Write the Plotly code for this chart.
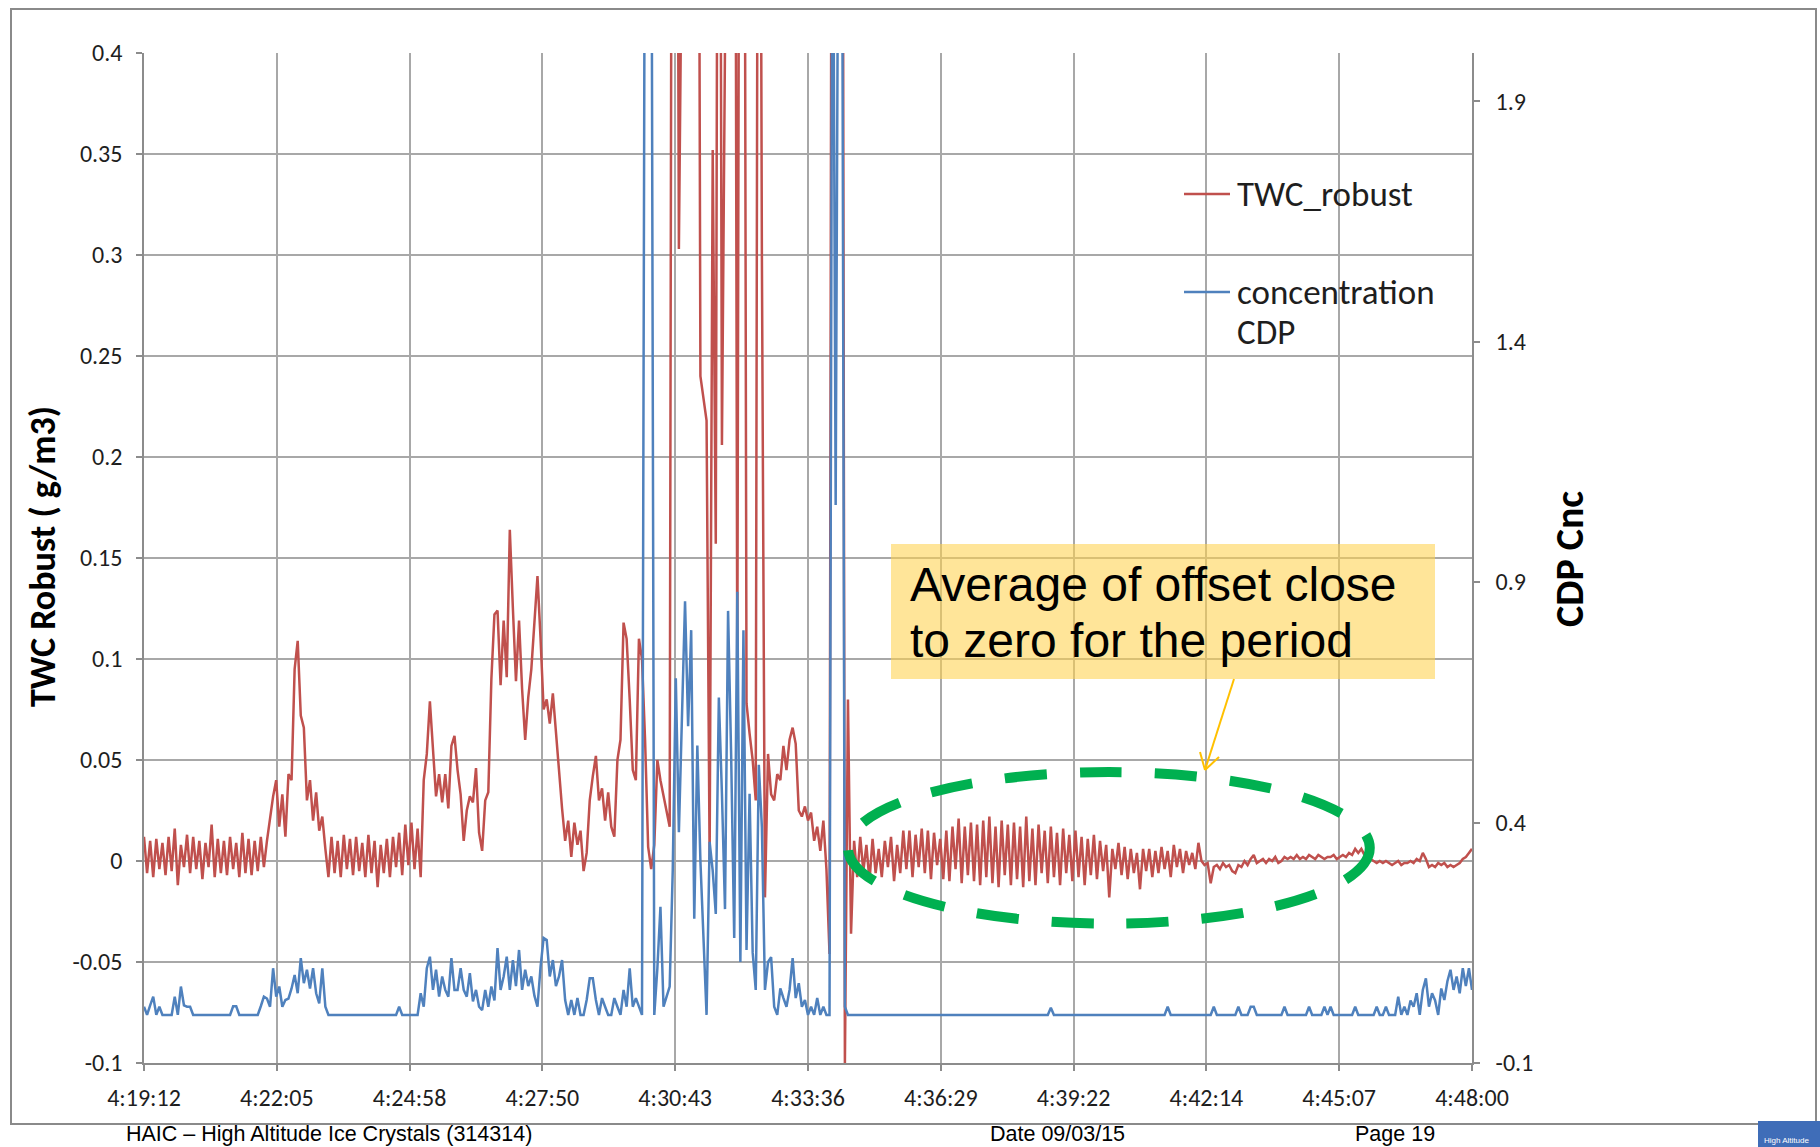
import pandas as pd
import plotly.graph_objects as go

# ---------------------------------------------------------------- data
START = "2015-03-09 04:19:12"
END = "2015-03-09 04:48:00"
SAMPLE_SECONDS = 4

# TWC robust (g/m3), one value every 4 s from 4:19:12
twc_robust = [
    0.012, -0.006, 0.010, -0.008, 0.011, -0.004, 0.009, -0.007, 0.012, -0.005,
    0.016, -0.012, 0.008, -0.003, 0.013, -0.006, 0.012, -0.004, 0.010, -0.009,
    0.009, -0.003, 0.018, -0.008, 0.011, -0.006, 0.010, -0.007, 0.012, -0.004,
    0.009, -0.008, 0.014, -0.006, 0.011, -0.007, 0.010, -0.005, 0.012, -0.003,
    0.010, 0.022, 0.032, 0.040, 0.017, 0.033, 0.012, 0.043, 0.040, 0.095,
    0.109, 0.072, 0.066, 0.030, 0.040, 0.020, 0.034, 0.015, 0.022, 0.006,
    -0.008, 0.012, -0.006, 0.010, -0.008, 0.013, -0.004, 0.011, -0.007, 0.012,
    -0.005, 0.009, -0.008, 0.013, -0.006, 0.010, -0.013, 0.008, -0.006, 0.011,
    -0.008, 0.012, -0.003, 0.014, -0.007, 0.018, -0.002, 0.019, -0.004, 0.016,
    -0.008, 0.040, 0.053, 0.079, 0.058, 0.032, 0.043, 0.029, 0.043, 0.026,
    0.057, 0.062, 0.045, 0.033, 0.010, 0.025, 0.032, 0.029, 0.046, 0.014,
    0.005, 0.030, 0.034, 0.090, 0.122, 0.124, 0.087, 0.119, 0.091, 0.164,
    0.125, 0.089, 0.119, 0.085, 0.060, 0.081, 0.095, 0.116, 0.141, 0.110,
    0.075, 0.080, 0.068, 0.083, 0.062, 0.045, 0.026, 0.010, 0.020, 0.002,
    0.019, 0.008, 0.015, -0.005, 0.004, 0.030, 0.042, 0.052, 0.030, 0.036,
    0.020, 0.034, 0.017, 0.012, 0.050, 0.060, 0.118, 0.110, 0.080, 0.045,
    0.040, 0.110, 0.100, 0.060, 0.007, -0.004, 0.008, 0.050, 0.040, 0.032,
    0.025, 0.017, 0.800, 0.800, 0.303, 0.800, 0.800, 0.800, 0.800, 0.800,
    0.800, 0.240, 0.230, 0.218, 0.001, 0.352, 0.157, 0.800, 0.206, 0.800,
    0.800, 0.800, 0.800, 0.086, 0.800, 0.800, 0.078, 0.063, 0.050, 0.030,
    0.800, 0.300, -0.018, 0.053, 0.033, 0.030, 0.043, 0.040, 0.057, 0.045,
    0.060, 0.066, 0.058, 0.025, 0.022, 0.027, 0.020, 0.024, 0.010, 0.017,
    0.005, 0.020, -0.004, -0.046, 0.800, 0.800, 0.800, 0.800, -0.101, 0.080,
    -0.036, 0.010, -0.008, 0.012, -0.005, 0.008, -0.010, 0.011, -0.006, 0.006,
    -0.008, 0.010, -0.003, 0.012, -0.010, 0.008, -0.006, 0.015, -0.004, 0.015,
    -0.008, 0.013, -0.003, 0.016, -0.006, 0.015, -0.009, 0.014, -0.002, 0.011,
    -0.009, 0.015, -0.010, 0.017, -0.004, 0.021, -0.011, 0.017, -0.007, 0.019,
    -0.010, 0.018, -0.012, 0.020, -0.008, 0.022, -0.011, 0.017, -0.013, 0.020,
    -0.007, 0.018, -0.012, 0.019, -0.009, 0.017, -0.013, 0.022, -0.010, 0.016,
    -0.012, 0.018, -0.006, 0.015, -0.011, 0.017, -0.008, 0.014, -0.012, 0.016,
    -0.006, 0.013, -0.010, 0.015, -0.008, 0.012, -0.012, 0.011, -0.007, 0.013,
    -0.009, 0.010, -0.005, 0.008, -0.018, 0.006, -0.004, 0.009, -0.007, 0.007,
    -0.009, 0.006, -0.006, 0.004, -0.014, 0.006, -0.005, 0.006, -0.008, 0.005,
    -0.006, 0.007, -0.004, 0.005, -0.008, 0.008, -0.003, 0.006, -0.006, 0.005,
    -0.002, 0.004, -0.004, 0.009, 0.000, -0.002, -0.001, -0.011, -0.003, -0.002,
    -0.004, -0.001, -0.003, -0.002, -0.005, -0.006, -0.002, -0.003, 0.000, -0.002,
    0.001, 0.003, -0.001, 0.000, 0.001, -0.001, 0.001, 0.000, 0.002, -0.001,
    0.000, 0.002, 0.001, 0.002, 0.001, 0.003, 0.001, 0.002, 0.001, 0.003,
    0.002, 0.001, 0.003, 0.002, 0.001, 0.002, 0.002, 0.003, 0.001, 0.002,
    0.003, 0.002, 0.004, 0.003, 0.006, 0.004, 0.006, 0.003, 0.004, 0.001,
    0.000, -0.001, 0.000, -0.001, 0.000, -0.001, -0.002, -0.001, 0.000, -0.002,
    -0.001, -0.001, 0.000, -0.001, 0.001, 0.000, 0.004, 0.001, -0.003, -0.002,
    -0.003, -0.001, -0.002, -0.001, -0.003, -0.002, -0.003, -0.002, -0.001, 0.001,
    0.002, 0.004, 0.006,
]

# CDP concentration (secondary axis), one value every 4 s from 4:19:12
cdp_concentration = [
    0.017, 0, 0.020, 0.038, 0, 0.017, 0, 0, 0, 0,
    0.038, 0, 0.059, 0.020, 0.017, 0.017, 0, 0, 0, 0,
    0, 0, 0, 0, 0, 0, 0, 0, 0, 0.018,
    0.018, 0, 0, 0, 0, 0, 0, 0, 0.018, 0.038,
    0.034, 0.017, 0.097, 0.038, 0.059, 0.017, 0.031, 0.034, 0.055, 0.083,
    0.045, 0.118, 0.066, 0.094, 0.055, 0.097, 0.045, 0.024, 0.097, 0.017,
    0, 0, 0, 0, 0, 0, 0, 0, 0, 0,
    0, 0, 0, 0, 0, 0, 0, 0, 0, 0,
    0, 0, 0, 0.017, 0, 0, 0, 0, 0, 0,
    0.045, 0.017, 0.097, 0.121, 0.052, 0.094, 0.038, 0.080, 0.052, 0.038,
    0.118, 0.052, 0.052, 0.097, 0.052, 0.038, 0.087, 0.028, 0.052, 0.017,
    0.010, 0.052, 0.017, 0.059, 0.030, 0.139, 0.052, 0.080, 0.121, 0.052,
    0.114, 0.060, 0.135, 0.052, 0.094, 0.060, 0.080, 0.040, 0.017, 0.100,
    0.160, 0.156, 0.080, 0.114, 0.060, 0.080, 0.114, 0.031, 0, 0.031,
    0, 0.035, 0, 0, 0.031, 0.076, 0.076, 0.031, 0, 0.035,
    0.017, 0, 0, 0.035, 0.017, 0, 0.052, 0.017, 0.097, 0.017,
    0.035, 0.017, 0, 2.6, 2.6, 2.6, 0, 0.097, 0.225, 0.017,
    0.038, 0.059, 0.30, 0.70, 0.38, 0.60, 0.86, 0.60, 0.80, 0.20,
    0.56, 0.32, 0.17, 0, 0.36, 0.30, 0.21, 0.66, 0.46, 0.22,
    0.84, 0.54, 0.16, 0.88, 0.11, 0.80, 0.135, 0.46, 0.13, 0.052,
    0.52, 0.39, 0.052, 0.11, 0.12, 0.017, 0, 0.055, 0.035, 0.017,
    0.052, 0.118, 0.035, 0.066, 0.017, 0.031, 0, 0.017, 0, 0.035,
    0, 0.017, 0, 0, 2.6, 1.06, 2.6, 2.6, 0.017, 0,
    0, 0, 0, 0, 0, 0, 0, 0, 0, 0,
    0, 0, 0, 0, 0, 0, 0, 0, 0, 0,
    0, 0, 0, 0, 0, 0, 0, 0, 0, 0,
    0, 0, 0, 0, 0, 0, 0, 0, 0, 0,
    0, 0, 0, 0, 0, 0, 0, 0, 0, 0,
    0, 0, 0, 0, 0, 0, 0, 0, 0, 0,
    0, 0, 0, 0, 0, 0.015, 0, 0, 0, 0,
    0, 0, 0, 0, 0, 0, 0, 0, 0, 0,
    0, 0, 0, 0, 0, 0, 0, 0, 0, 0,
    0, 0, 0, 0, 0, 0, 0, 0, 0, 0,
    0, 0, 0, 0.017, 0, 0, 0, 0, 0, 0,
    0, 0, 0, 0, 0, 0, 0, 0, 0.017, 0,
    0, 0, 0, 0, 0, 0, 0.017, 0, 0, 0,
    0.017, 0.017, 0, 0, 0, 0, 0, 0, 0, 0,
    0, 0.017, 0, 0, 0, 0, 0, 0, 0, 0.017,
    0, 0, 0, 0, 0.017, 0, 0.017, 0, 0, 0,
    0, 0, 0, 0, 0.017, 0, 0, 0, 0, 0,
    0, 0.017, 0, 0, 0.017, 0, 0, 0, 0.038, 0,
    0.017, 0, 0.030, 0.017, 0.045, 0, 0.052, 0.076, 0.017, 0.045,
    0.030, 0, 0.055, 0.031, 0.070, 0.094, 0.052, 0.080, 0.045, 0.097,
    0.060, 0.097, 0.052,
]

time_labels = ["4:19:12", "4:22:05", "4:24:58", "4:27:50", "4:30:43", "4:33:36",
               "4:36:29", "4:39:22", "4:42:14", "4:45:07", "4:48:00"]
twc_ticks = [-0.1, -0.05, 0, 0.05, 0.1, 0.15, 0.2, 0.25, 0.3, 0.35, 0.4]
twc_tick_text = ["-0.1", "-0.05", "0", "0.05", "0.1", "0.15", "0.2", "0.25", "0.3", "0.35", "0.4"]
cdp_ticks = [-0.1, 0.4, 0.9, 1.4, 1.9]
cdp_tick_text = ["-0.1", "0.4", "0.9", "1.4", "1.9"]

# highlighted period (time span and TWC span of the dashed ellipse)
period_start, period_end = "2015-03-09 04:34:28", "2015-03-09 04:45:47"
period_low, period_high = -0.031, 0.044

# ---------------------------------------------------------------- layout geometry (pixels)
FIG_W, FIG_H = 1820, 1147
PLOT_LEFT, PLOT_RIGHT, PLOT_TOP, PLOT_BOTTOM = 144, 1472, 53, 1063
PLOT_W = PLOT_RIGHT - PLOT_LEFT
PLOT_H = PLOT_BOTTOM - PLOT_TOP


def px(x):
    return (x - PLOT_LEFT) / PLOT_W


def py(y):
    return (PLOT_BOTTOM - y) / PLOT_H


RED = "#C0504D"
BLUE = "#4F81BD"
GRID = "#A8A8A8"
AXIS = "#8C8C8C"
TEXT = "#1E1E1E"
FONT_CHART = "Carlito, Calibri, Lato, sans-serif"
FONT_SLIDE = "Liberation Sans, Arial, sans-serif"

twc_time = pd.date_range(START, periods=len(twc_robust), freq=f"{SAMPLE_SECONDS}s")
cdp_time = pd.date_range(START, periods=len(cdp_concentration), freq=f"{SAMPLE_SECONDS}s")
tick_times = pd.date_range(START, END, periods=len(time_labels))

fig = go.Figure()
fig.add_trace(go.Scatter(x=twc_time, y=twc_robust, mode="lines", name="TWC_robust",
                         line=dict(color=RED, width=2.5), yaxis="y", showlegend=False))
fig.add_trace(go.Scatter(x=cdp_time, y=cdp_concentration, mode="lines", name="concentration CDP",
                         line=dict(color=BLUE, width=2.5), yaxis="y2", showlegend=False))

tick_font = dict(family=FONT_CHART, size=24, color=TEXT)

fig.update_layout(
    width=FIG_W, height=FIG_H,
    margin=dict(l=PLOT_LEFT, r=FIG_W - PLOT_RIGHT, t=PLOT_TOP, b=FIG_H - PLOT_BOTTOM, autoexpand=False),
    paper_bgcolor="white", plot_bgcolor="white",
    showlegend=False,
    xaxis=dict(type="date", range=[START, END], tickvals=tick_times, ticktext=time_labels,
               showgrid=True, gridcolor=GRID, gridwidth=1.5,
               showline=True, linecolor=AXIS, linewidth=1.5,
               ticks="outside", ticklen=6, tickcolor=AXIS, tickwidth=1.5,
               tickfont=tick_font, ticklabelstandoff=6, zeroline=False),
    yaxis=dict(range=[-0.1, 0.4], tickvals=twc_ticks, ticktext=twc_tick_text,
               showgrid=True, gridcolor=GRID, gridwidth=1.5, zeroline=False,
               showline=True, linecolor=AXIS, linewidth=1.5,
               ticks="outside", ticklen=6, tickcolor=AXIS, tickwidth=1.5,
               tickfont=tick_font, ticklabelstandoff=9),
    yaxis2=dict(range=[-0.1, 2.0], tickvals=cdp_ticks, ticktext=cdp_tick_text,
                overlaying="y", side="right", showgrid=False, zeroline=False,
                showline=True, linecolor=AXIS, linewidth=1.5,
                ticks="outside", ticklen=6, tickcolor=AXIS, tickwidth=1.5,
                tickfont=tick_font, ticklabelstandoff=11),
)

shapes = [
    # chart border
    dict(type="rect", xref="paper", yref="paper", x0=px(11), x1=px(1816), y0=py(9), y1=py(1124),
         line=dict(color="#8A8A8A", width=2), fillcolor="rgba(0,0,0,0)", layer="below"),
    # legend keys
    dict(type="line", xref="paper", yref="paper", x0=px(1184), x1=px(1230), y0=py(194), y1=py(194),
         line=dict(color=RED, width=2.5)),
    dict(type="line", xref="paper", yref="paper", x0=px(1184), x1=px(1230), y0=py(292), y1=py(292),
         line=dict(color=BLUE, width=2.5)),
    # callout box
    dict(type="rect", xref="paper", yref="paper", x0=px(891), x1=px(1435), y0=py(679), y1=py(544),
         line=dict(width=0), fillcolor="rgba(255,210,80,0.58)"),
    # callout arrow and its open head
    dict(type="line", xref="paper", yref="paper", x0=px(1234), y0=py(679), x1=px(1205), y1=py(770),
         line=dict(color="#FFC000", width=2)),
    dict(type="line", xref="paper", yref="paper", x0=px(1200), y0=py(752), x1=px(1205), y1=py(770),
         line=dict(color="#FFC000", width=2)),
    dict(type="line", xref="paper", yref="paper", x0=px(1219), y0=py(757), x1=px(1205), y1=py(770),
         line=dict(color="#FFC000", width=2)),
    # dashed ellipse around the highlighted period
    dict(type="circle", xref="x", yref="y", x0=period_start, x1=period_end,
         y0=period_low, y1=period_high,
         line=dict(color="#00B050", width=10, dash="42px,33px")),
    # logo tab at the slide corner
    dict(type="rect", xref="paper", yref="paper", x0=px(1758), x1=px(1822), y0=py(1147), y1=py(1121),
         line=dict(width=0), fillcolor="#3F6DB8"),
]
fig.update_layout(shapes=shapes)


def note(text, x, y, size, family=FONT_CHART, bold=False, angle=0, xanchor="left", color=TEXT):
    label = f"<b>{text}</b>" if bold else text
    return dict(text=label, xref="paper", yref="paper", x=px(x), y=py(y), showarrow=False,
                xanchor=xanchor, yanchor="middle", textangle=angle,
                font=dict(family=family, size=size, color=color))


fig.update_layout(annotations=[
    note("TWC Robust ( g/m3)", 43, 557, 36, bold=True, angle=-90, xanchor="center", color="#000000"),
    note("CDP Cnc", 1569, 559, 40, bold=True, angle=-90, xanchor="center", color="#000000"),
    note("TWC_robust", 1235, 194, 35),
    note("concentration", 1235, 292, 35),
    note("CDP", 1235, 332, 35),
    note("Average of offset close", 908, 584, 48, family=FONT_SLIDE, color="#000000"),
    note("to zero for the period", 908, 640, 48, family=FONT_SLIDE, color="#000000"),
    note("HAIC \u2013 High Altitude Ice Crystals (314314)", 124, 1134, 21.5, family=FONT_SLIDE, color="#000000"),
    note("Date 09/03/15", 988, 1134, 21.5, family=FONT_SLIDE, color="#000000"),
    note("Page 19", 1353, 1134, 21.5, family=FONT_SLIDE, color="#000000"),
    note("High Altitude", 1762, 1140, 8, family=FONT_SLIDE, color="#FFFFFF"),
])

fig.write_html("out.html")
